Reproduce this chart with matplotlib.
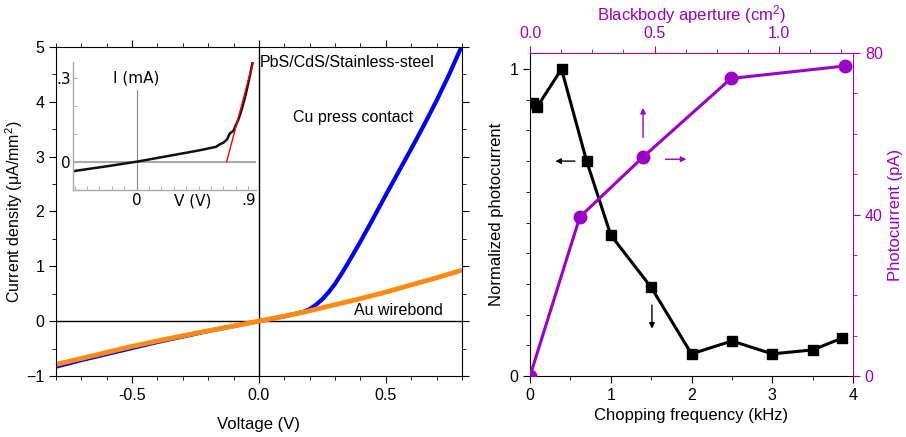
import matplotlib
matplotlib.use("Agg")
import matplotlib.pyplot as plt
from matplotlib.ticker import MultipleLocator, FixedLocator

plt.rcParams['font.family'] = ['Liberation Sans', 'DejaVu Sans']
plt.rcParams['mathtext.fontset'] = 'custom'
plt.rcParams['mathtext.rm'] = 'Liberation Sans'
plt.rcParams['mathtext.it'] = 'Liberation Sans'

# ---- left panel: J-V curves ----
v_cu = [-0.8, -0.7, -0.6, -0.5, -0.4, -0.3, -0.2, -0.1, 0.0, 0.05, 0.1, 0.15, 0.175, 0.2,
        0.225, 0.25, 0.275, 0.3, 0.325, 0.35, 0.375, 0.4, 0.45, 0.5, 0.55, 0.6, 0.65, 0.7,
        0.75, 0.8]
j_cu = [-0.83, -0.71, -0.6, -0.49, -0.38, -0.28, -0.18, -0.09, 0.0, 0.045, 0.09, 0.14, 0.17, 0.22,
        0.3, 0.4, 0.53, 0.68, 0.86, 1.05, 1.25, 1.45, 1.87, 2.3, 2.72, 3.14, 3.57, 4.02,
        4.5, 5.02]
v_au = [-0.8, -0.6, -0.5, -0.4, -0.25, 0.0, 0.1, 0.2, 0.3, 0.4, 0.5, 0.6, 0.7, 0.8]
j_au = [-0.79, -0.57, -0.46, -0.36, -0.22, 0.0, 0.09, 0.19, 0.3, 0.41, 0.53, 0.66, 0.79, 0.93]

# inset: I-V of the device, with linear fit
v_in = [-0.5, -0.25, 0.0, 0.25, 0.5, 0.64, 0.67, 0.7, 0.73, 0.75, 0.78, 0.82, 0.85, 0.88, 0.91, 0.935]
i_in = [-0.033, -0.017, 0.0, 0.02, 0.04, 0.053, 0.062, 0.068, 0.08, 0.1, 0.11, 0.15, 0.19, 0.24, 0.3, 0.354]
v_fit = [0.726, 0.94]
i_fit = [0.0, 0.357]

# ---- right panel ----
freq = [0.033, 0.087, 0.39, 0.70, 1.0, 1.5, 2.0, 2.5, 3.0, 3.5, 3.86]
norm_pc = [0.889, 0.876, 1.0, 0.701, 0.459, 0.289, 0.072, 0.114, 0.072, 0.085, 0.123]
aperture = [0.0, 0.2, 0.455, 0.807, 1.265]
photocurrent = [0.0, 39.4, 54.3, 73.7, 76.8]

purple = '#9A00C8'

fig = plt.figure(figsize=(9.06, 4.37), dpi=100)

ax = fig.add_axes([0.0618, 0.1396, 0.448, 0.7529])
ax.axhline(0, color='k', lw=1)
ax.axvline(0, color='k', lw=1)
ax.plot(v_cu, j_cu, color='#0000FF', lw=3, solid_capstyle='butt')
ax.plot(v_au, j_au, color='#FF8A10', lw=3.5, solid_capstyle='butt')
ax.set_xlim(-0.8, 0.8)
ax.set_ylim(-1, 5)
ax.xaxis.set_major_locator(FixedLocator([-0.5, 0.0, 0.5]))
ax.xaxis.set_minor_locator(MultipleLocator(0.1))
ax.yaxis.set_major_locator(MultipleLocator(1))
ax.yaxis.set_minor_locator(MultipleLocator(0.5))
ax.set_xticklabels(['-0.5', '0.0', '0.5'])
ax.tick_params(which='both', direction='out', top=True, right=True, labelsize=11.5)
ax.tick_params(which='major', length=5)
ax.tick_params(which='minor', length=3)
ax.set_xlabel('Voltage (V)', fontsize=12, labelpad=10)
ax.set_ylabel(r'Current density ($\mu$A/mm$^2$)', fontsize=11.5, labelpad=1)
ax.text(0.005, 4.72, 'PbS/CdS/Stainless-steel', fontsize=11.5, ha='left', va='center')
ax.text(0.37, 3.72, 'Cu press contact', fontsize=11.5, ha='center', va='center')
ax.text(0.55, 0.2, 'Au wirebond', fontsize=11.5, ha='center', va='center')

# inset
axi = fig.add_axes([0.0809, 0.5652, 0.2013, 0.2936])
axi.patch.set_alpha(0)
for s in ['top', 'right']:
    axi.spines[s].set_visible(False)
for s in ['left', 'bottom']:
    axi.spines[s].set_color('#aaaaaa')
    axi.spines[s].set_linewidth(1)
axi.axhline(0, color='#aaaaaa', lw=1.5)
axi.plot([0, 0], [-0.101, 0.255], color='#888888', lw=0.8)
axi.plot(v_in, i_in, color='#111111', lw=1.8)
axi.plot(v_fit, i_fit, color='#FF0000', lw=1)
axi.set_xlim(-0.51, 0.96)
axi.set_ylim(-0.101, 0.357)
axi.xaxis.set_major_locator(FixedLocator([0.0, 0.9]))
axi.xaxis.set_minor_locator(MultipleLocator(0.1))
axi.yaxis.set_major_locator(FixedLocator([0.0, 0.3]))
axi.yaxis.set_minor_locator(MultipleLocator(0.1))
axi.set_xticklabels(['0', '.9'])
axi.set_yticklabels(['0', '.3'])
axi.tick_params(which='both', direction='in', colors='#aaaaaa', length=3, pad=2)
for lab in axi.get_xticklabels() + axi.get_yticklabels():
    lab.set_color('k')
    lab.set_fontfamily('DejaVu Sans')
    lab.set_fontsize(11)
axi.text(0.0, 0.3, 'I (mA)', fontsize=11, family='DejaVu Sans', ha='center', va='center')
axi.text(0.45, -0.142, 'V (V)', fontsize=11, family='DejaVu Sans', ha='center', va='center')

# right panel
ax2 = fig.add_axes([0.585, 0.1396, 0.3565, 0.739])
ax2.plot(freq, norm_pc, color='k', lw=2.2, marker='s', ms=7.5, zorder=3)
ax2.set_xlim(0, 4)
ax2.set_ylim(0, 1.052)
ax2.xaxis.set_major_locator(MultipleLocator(1))
ax2.xaxis.set_minor_locator(MultipleLocator(0.5))
ax2.yaxis.set_major_locator(FixedLocator([0, 1]))
ax2.yaxis.set_minor_locator(MultipleLocator(0.1))
ax2.tick_params(which='both', direction='out', labelsize=11.5)
ax2.tick_params(which='major', length=5)
ax2.tick_params(which='minor', length=3)
ax2.spines['top'].set_visible(False)
ax2.spines['right'].set_visible(False)
ax2.set_xlabel('Chopping frequency (kHz)', fontsize=12)
ax2.set_ylabel('Normalized photocurrent', fontsize=12)
ax2.annotate('', xy=(0.28, 0.70), xytext=(0.59, 0.70),
             arrowprops=dict(arrowstyle='-|>', color='k', lw=1, mutation_scale=8))
ax2.annotate('', xy=(1.51, 0.145), xytext=(1.51, 0.24),
             arrowprops=dict(arrowstyle='-|>', color='k', lw=1, mutation_scale=8))

axr = ax2.twinx()
axr.set_ylim(0, 80)
axr.yaxis.set_major_locator(MultipleLocator(40))
axr.yaxis.set_minor_locator(MultipleLocator(10))
axr.tick_params(which='both', direction='out', colors=purple, labelsize=11.5)
axr.tick_params(which='major', length=5)
axr.tick_params(which='minor', length=3)
for s in ['top', 'left', 'bottom']:
    axr.spines[s].set_visible(False)
axr.spines['right'].set_color(purple)
axr.set_ylabel('Photocurrent (pA)', color=purple, fontsize=12)

axt = axr.twiny()
axt.plot(aperture, photocurrent, color=purple, lw=2.2, marker='o', ms=9, zorder=3)
axt.set_xlim(0, 1.297)
axt.xaxis.set_major_locator(FixedLocator([0.0, 0.5, 1.0]))
axt.xaxis.set_minor_locator(MultipleLocator(0.125))
axt.set_xticklabels(['0.0', '0.5', '1.0'])
axt.tick_params(which='both', direction='out', colors=purple, labelsize=11.5)
axt.tick_params(which='major', length=5)
axt.tick_params(which='minor', length=3)
for s in ['right', 'left', 'bottom']:
    axt.spines[s].set_visible(False)
axt.spines['top'].set_color(purple)
axt.set_xlabel('Blackbody aperture (cm$^2$)', color=purple, fontsize=12)
axt.annotate('', xy=(0.639, 53.7), xytext=(0.533, 53.7),
             arrowprops=dict(arrowstyle='-|>', color=purple, lw=1, mutation_scale=8))
axt.annotate('', xy=(0.454, 67.1), xytext=(0.454, 58.4),
             arrowprops=dict(arrowstyle='-|>', color=purple, lw=1, mutation_scale=8))

fig.savefig('out.png', dpi=100)
